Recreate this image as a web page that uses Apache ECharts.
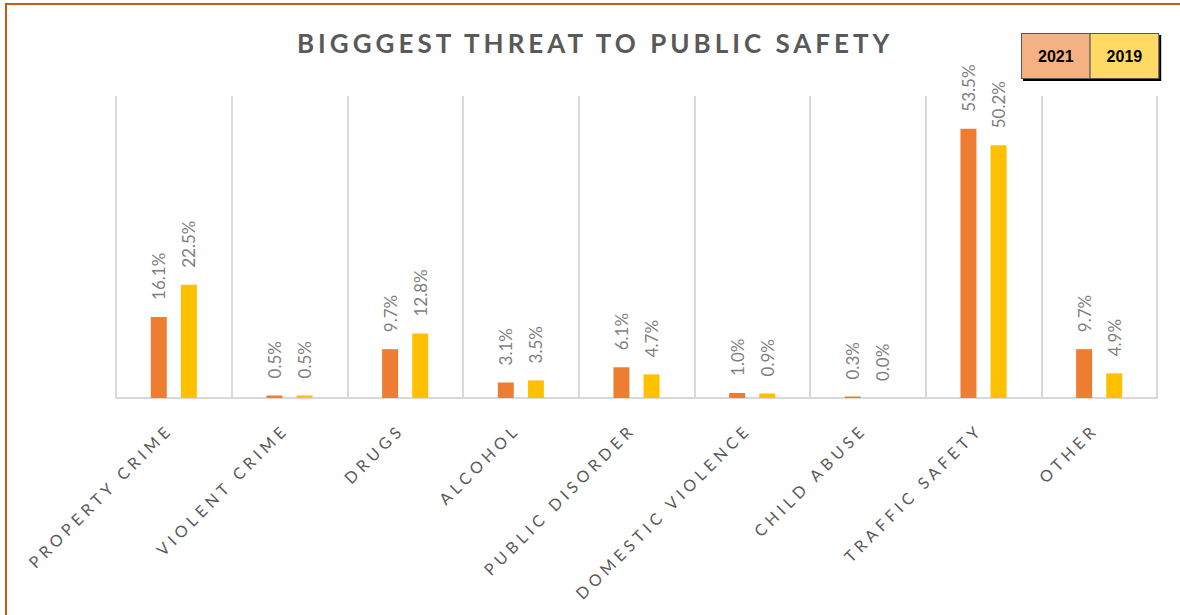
<!DOCTYPE html>
<html>
<head>
<meta charset="utf-8">
<script src="https://cdn.jsdelivr.net/npm/echarts@6/dist/echarts.min.js"></script>
<style>
  html, body { margin: 0; padding: 0; background: #fff; }
  #chart { width: 1180px; height: 615px; }
</style>
</head>
<body>
<div id="chart"></div>
<script>
const categories = ['PROPERTY CRIME', 'VIOLENT CRIME', 'DRUGS', 'ALCOHOL', 'PUBLIC DISORDER',
  'DOMESTIC VIOLENCE', 'CHILD ABUSE', 'TRAFFIC SAFETY', 'OTHER']
const values2021 = [16.1, 0.5, 9.7, 3.1, 6.1, 1.0, 0.3, 53.5, 9.7]
const values2019 = [22.5, 0.5, 12.8, 3.5, 4.7, 0.9, 0.0, 50.2, 4.9]
const titleText = 'BIGGGEST THREAT TO PUBLIC SAFETY'

const myChart = echarts.init(document.getElementById('chart'), null, { renderer: 'svg' })

const barLabel = {
  show: true,
  position: 'top',
  rotate: 90,
  align: 'left',
  verticalAlign: 'middle',
  distance: 17,
  color: '#7f7f7f',
  fontFamily: 'Lato',
  fontSize: 17,
  formatter: p => p.value.toFixed(1) + '%'
}

const option = {
  backgroundColor: '#fff',
  animation: false,
  title: {
    text: titleText,
    left: 292,
    top: 25,
    textStyle: {
      fontFamily: 'Lato',
      fontWeight: 'bold',
      fontSize: 26,
      color: '#595959'
    }
  },
  legend: {
    left: 1012,
    top: 28,
    icon: 'none',
    itemWidth: 0,
    itemHeight: 0,
    itemGap: -5,
    selectedMode: false,
    data: [
      { name: '2021', textStyle: { backgroundColor: '#F4B183' } },
      { name: '2019', textStyle: { backgroundColor: '#FFD966' } }
    ],
    textStyle: {
      fontFamily: 'Liberation Sans',
      fontWeight: 'bold',
      fontSize: 16,
      color: '#000',
      lineHeight: 44,
      padding: [0, 16],
      borderColor: '#595959',
      borderWidth: 1,
      shadowColor: '#000',
      shadowOffsetX: 2,
      shadowOffsetY: 2,
      shadowBlur: 0
    }
  },
  grid: {
    left: 116,
    right: 23,
    top: 96,
    bottom: 217
  },
  xAxis: {
    type: 'category',
    data: categories,
    axisLine: { lineStyle: { color: '#d9d9d9', width: 2 } },
    axisTick: { show: false },
    splitLine: { show: true, lineStyle: { color: '#d9d9d9', width: 2 } },
    axisLabel: {
      interval: 0,
      rotate: 45,
      margin: 24,
      padding: [0, 6, 0, 0],
      color: '#595959',
      fontFamily: 'Lato',
      fontSize: 16
    }
  },
  yAxis: {
    type: 'value',
    min: 0,
    max: 60,
    show: false,
    splitLine: { show: false }
  },
  series: [
    {
      name: '2021',
      type: 'bar',
      data: values2021,
      barWidth: 16,
      barGap: '88%',
      itemStyle: { color: '#ED7D31' },
      label: barLabel
    },
    {
      name: '2019',
      type: 'bar',
      data: values2019,
      barWidth: 16,
      itemStyle: { color: '#FFC000' },
      label: barLabel
    }
  ],
  graphic: [
    {
      type: 'rect',
      shape: { x: 6, y: 4, width: 1400, height: 900 },
      style: { fill: 'none', stroke: '#C55A11', lineWidth: 2 },
      silent: true
    }
  ]
}

option && myChart.setOption(option)

// Excel's text is letter-spaced; svg text lets us do that with css
document.querySelectorAll('#chart text').forEach(t => {
  const s = t.textContent
  if (s === titleText) t.style.letterSpacing = '4px'
  else if (categories.includes(s)) t.style.letterSpacing = '4.5px'
})
</script>
</body>
</html>
